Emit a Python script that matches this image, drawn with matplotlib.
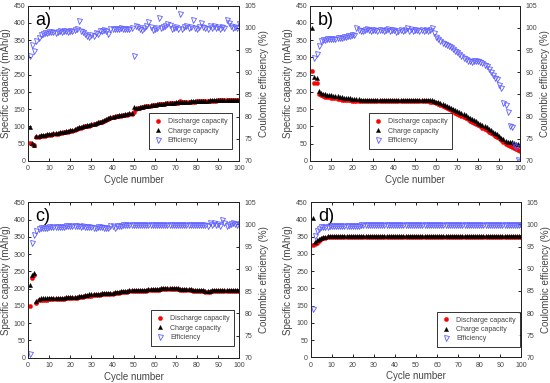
import numpy as np
import matplotlib
matplotlib.use("Agg")
import matplotlib.pyplot as plt

plt.rcParams['font.family'] = ['Liberation Sans', 'DejaVu Sans']

cycles = np.arange(1, 101)

# ---- panel a ----
a_dis = [53, 49, 45, 68, 70, 71, 72, 73, 74, 75,
         76, 77, 78, 79, 80, 81, 83, 84, 85, 87,
         88, 90, 92, 95, 96, 98, 100, 101, 102, 104,
         106, 108, 110, 112, 114, 116, 119, 121, 124, 126,
         127, 129, 130, 131, 132, 133, 134, 136, 137, 143,
         150, 152, 153, 155, 156, 158, 159, 160, 161, 162,
         163, 164, 165, 165, 166, 167, 167, 168, 168, 169,
         169, 174, 170, 170, 171, 171, 172, 172, 172, 173,
         173, 173, 174, 174, 174, 175, 175, 175, 175, 176,
         176, 176, 176, 177, 176, 176, 177, 177, 177, 177]
a_chg = [97, 51, 47, 72, 73, 74, 75, 76, 77, 78,
         79, 80, 81, 82, 83, 84, 85, 86, 88, 89,
         90, 92, 94, 97, 98, 100, 102, 103, 104, 106,
         108, 110, 112, 114, 116, 118, 121, 123, 126, 128,
         129, 131, 132, 133, 134, 135, 136, 138, 139, 155,
         152, 154, 155, 157, 158, 159, 160, 161, 162, 163,
         164, 165, 166, 166, 167, 168, 168, 169, 169, 170,
         170, 171, 171, 171, 172, 172, 173, 173, 173, 174,
         174, 174, 175, 175, 175, 176, 176, 176, 176, 177,
         177, 177, 177, 178, 177, 177, 178, 178, 178, 178]
a_eff = [93.7, 96.1, 94.7, 97.0, 97.8, 98.4, 98.6, 98.8, 98.9, 99.0,
         99.0, 99.1, 98.9, 99.1, 99.2, 99.0, 99.2, 99.3, 99.1, 99.3,
         99.4, 99.5, 99.8, 101.5, 99.4, 99.0, 98.6, 98.2, 98.0, 98.4,
         98.2, 98.8, 98.6, 99.2, 99.4, 99.6, 99.2, 98.7, 99.7, 99.8,
         99.8, 99.7, 99.8, 99.9, 99.8, 99.8, 99.7, 99.8, 100.0, 93.7,
         100.4, 100.1, 99.8, 99.6, 100.0, 100.4, 101.3, 100.2, 99.5, 99.8,
         100.0, 102.3, 99.9, 100.1, 100.5, 100.8, 100.6, 99.8, 100.0, 100.3,
         99.7, 103.2, 99.8, 100.1, 100.4, 99.9, 100.2, 101.7, 99.9, 99.8,
         100.2, 101.0, 100.3, 100.0, 99.8, 100.4, 100.0, 100.5, 99.9, 100.2,
         99.8, 100.3, 100.0, 101.7, 101.1, 100.4, 99.9, 100.3, 100.0, 100.9]

# ---- panel b ----
b_dis = [262, 225, 225, 195, 190, 187, 185, 184, 184, 183,
         182, 181, 180, 179, 178, 177, 177, 176, 176, 175,
         175, 175, 174, 174, 174, 174, 174, 173, 173, 173,
         173, 173, 173, 173, 173, 173, 173, 173, 173, 173,
         173, 173, 173, 174, 174, 174, 174, 174, 174, 174,
         174, 174, 174, 174, 174, 173, 172, 171, 170, 168,
         166, 163, 160, 157, 154, 151, 147, 144, 140, 137,
         134, 131, 127, 124, 120, 117, 113, 110, 107, 103,
         100, 96, 93, 89, 85, 81, 77, 73, 69, 65,
         60, 55, 50, 45, 42, 40, 37, 34, 32, 30]
b_chg = [385, 242, 240, 203, 197, 195, 193, 192, 191, 190,
         189, 188, 187, 185, 184, 183, 182, 181, 181, 180,
         180, 179, 179, 178, 178, 178, 178, 177, 177, 177,
         177, 177, 177, 177, 177, 177, 177, 177, 177, 177,
         177, 177, 177, 178, 178, 178, 178, 178, 178, 178,
         178, 178, 178, 178, 178, 177, 177, 176, 174, 172,
         170, 168, 165, 162, 159, 156, 153, 150, 147, 144,
         141, 138, 135, 132, 128, 125, 122, 118, 115, 111,
         108, 104, 101, 97, 93, 89, 85, 81, 77, 72,
         67, 62, 58, 56, 55, 54, 52, 50, 48, 46]
b_eff = [68.1, 93.1, 94.0, 95.9, 97.1, 97.2, 97.3, 97.4, 97.4, 97.5,
         97.6, 97.6, 97.7, 97.8, 97.8, 97.9, 98.0, 98.1, 98.2, 98.3,
         98.5, 100.0, 99.5, 99.4, 99.2, 99.6, 99.8, 99.5, 99.4, 99.5,
         99.5, 99.4, 99.6, 99.5, 99.3, 99.5, 99.7, 99.2, 99.6, 99.5,
         99.1, 99.4, 99.6, 99.3, 99.5, 100.0, 99.4, 99.8, 99.3, 99.6,
         99.5, 99.4, 99.5, 99.4, 99.5, 99.4, 99.6, 99.9, 98.8, 98.0,
         97.4, 97.0, 96.7, 96.4, 96.2, 96.0, 95.7, 95.3, 94.8, 94.5,
         94.0, 93.6, 93.2, 92.9, 92.6, 92.5, 92.4, 92.5, 92.6, 92.5,
         92.3, 92.0, 91.6, 91.4, 90.8, 90.1, 89.3, 88.8, 88.5, 87.2,
         86.5, 83.0, 82.6, 81.0, 77.8, 77.6, 73.5, 73.2, 70.3, 69.8]

# ---- panel c ----
c_dis = [149, 231, 238, 159, 166, 168, 168, 168, 168, 169,
         169, 169, 170, 170, 170, 171, 171, 172, 172, 172,
         173, 173, 174, 175, 176, 177, 178, 179, 180, 180,
         181, 181, 182, 182, 183, 183, 184, 184, 185, 185,
         186, 187, 188, 189, 189, 190, 191, 192, 192, 193,
         193, 193, 193, 194, 194, 194, 195, 195, 196, 196,
         197, 197, 198, 198, 198, 198, 198, 198, 198, 198,
         198, 197, 197, 196, 196, 195, 195, 194, 194, 193,
         193, 192, 192, 191, 191, 191, 192, 192, 192, 192,
         193, 193, 193, 193, 193, 192, 192, 192, 192, 192]
c_chg = [210, 240, 245, 163, 170, 172, 172, 172, 172, 172,
         172, 172, 173, 173, 173, 174, 174, 175, 175, 175,
         176, 176, 177, 178, 179, 180, 181, 182, 183, 183,
         184, 184, 185, 185, 186, 186, 187, 187, 188, 188,
         189, 190, 191, 192, 192, 193, 194, 195, 195, 196,
         196, 196, 196, 197, 197, 197, 198, 198, 199, 199,
         200, 200, 201, 201, 201, 201, 201, 201, 201, 202,
         201, 200, 200, 199, 199, 198, 198, 197, 197, 196,
         196, 195, 195, 194, 194, 194, 195, 195, 195, 195,
         196, 196, 196, 196, 196, 195, 195, 195, 195, 195]
c_eff = [70.9, 95.9, 97.6, 98.5, 99.0, 99.2, 99.3, 99.3, 99.3, 99.4,
         99.4, 99.4, 99.5, 99.5, 99.5, 99.5, 99.5, 99.6, 99.6, 99.6,
         99.6, 99.7, 99.6, 99.6, 99.5, 99.6, 99.5, 99.5, 99.4, 99.5,
         99.2, 99.3, 99.4, 99.5, 99.4, 99.2, 99.1, 99.2, 99.7, 99.6,
         99.3, 99.6, 99.7, 99.7, 99.8, 99.8, 99.8, 99.8, 99.8, 99.8,
         99.8, 99.8, 99.8, 99.8, 99.8, 99.8, 99.8, 99.8, 99.8, 99.8,
         99.9, 99.8, 99.9, 99.8, 99.8, 99.9, 99.8, 99.8, 99.8, 99.8,
         99.8, 99.8, 99.8, 99.8, 99.9, 99.9, 99.8, 99.8, 99.9, 99.9,
         99.9, 99.9, 99.9, 99.8, 99.7, 100.4, 99.8, 100.3, 99.9, 100.0,
         99.7, 101.0, 100.4, 99.7, 99.8, 100.0, 100.3, 100.2, 99.8, 100.1]

# ---- panel d ----
d_dis = [326, 328, 332, 338, 342, 345, 347, 348, 348, 349,
         349, 349, 349, 349, 350, 350, 350, 350, 350, 350,
         350, 350, 350, 350, 350, 350, 350, 350, 350, 350,
         350, 350, 350, 350, 350, 350, 350, 350, 350, 350,
         350, 350, 350, 350, 350, 350, 350, 350, 350, 350,
         350, 350, 350, 350, 350, 350, 350, 350, 350, 350,
         350, 350, 350, 350, 350, 350, 350, 350, 350, 350,
         350, 350, 350, 350, 350, 350, 350, 350, 350, 350,
         350, 350, 350, 350, 350, 350, 350, 350, 350, 350,
         350, 350, 350, 350, 350, 350, 350, 350, 350, 350]
d_chg = [403, 336, 340, 344, 347, 349, 350, 351, 351, 352,
         352, 352, 352, 352, 352, 352, 352, 352, 352, 352,
         352, 352, 353, 353, 353, 353, 353, 353, 353, 353,
         353, 353, 353, 353, 353, 353, 353, 353, 353, 353,
         353, 353, 353, 353, 353, 353, 353, 353, 353, 353,
         353, 353, 353, 353, 353, 353, 353, 353, 353, 353,
         353, 353, 353, 353, 353, 353, 353, 353, 353, 353,
         353, 353, 353, 353, 353, 353, 353, 353, 353, 353,
         353, 353, 353, 353, 353, 353, 353, 353, 353, 353,
         353, 353, 353, 353, 353, 353, 353, 353, 353, 353]
d_eff = [80.8, 97.3, 98.4, 99.0, 99.3, 99.4, 99.5, 99.5, 99.6, 99.6,
         99.7, 99.7, 99.7, 99.7, 99.7, 99.7, 99.7, 99.7, 99.7, 99.7,
         99.7, 99.7, 99.7, 99.8, 99.8, 99.8, 99.8, 99.8, 99.8, 99.8,
         99.8, 99.8, 99.8, 99.8, 99.8, 99.8, 99.8, 99.8, 99.8, 99.8,
         99.8, 99.8, 99.8, 99.8, 99.8, 99.8, 99.8, 99.8, 99.8, 99.8,
         99.8, 99.8, 99.8, 99.8, 99.8, 99.8, 99.8, 99.8, 99.8, 99.8,
         99.8, 99.8, 99.8, 99.8, 99.8, 99.8, 99.8, 99.8, 99.8, 99.8,
         99.8, 99.8, 99.8, 99.8, 99.8, 99.8, 99.8, 99.8, 99.8, 99.8,
         99.8, 99.8, 99.8, 99.8, 99.8, 99.8, 99.8, 99.8, 99.8, 99.8,
         99.8, 99.8, 99.8, 99.8, 99.8, 99.8, 99.8, 99.8, 99.8, 99.8]

panels = [
    ("a)", a_dis, a_chg, a_eff, [0.051, 0.580, 0.384, 0.405], (0.573, 0.077)),
    ("b)", b_dis, b_chg, b_eff, [0.564, 0.580, 0.382, 0.405], (0.280, 0.077)),
    ("c)", c_dis, c_chg, c_eff, [0.051, 0.066, 0.384, 0.406], (0.583, 0.075)),
    ("d)", d_dis, d_chg, d_eff, [0.565, 0.067, 0.383, 0.405], (0.600, 0.065)),
]

TXT = '#444444'
BLUE = '#5a5aff'

fig = plt.figure(figsize=(5.5, 3.83), dpi=100)

for label, dis, chg, eff, rect, leg_xy in panels:
    ax = fig.add_axes(rect)
    ax2 = ax.twinx()
    h1, = ax.plot(cycles, dis, 'o', color='red', ms=3, mec='red', mew=0.3,
                  label='Discharge capacity')
    h2, = ax.plot(cycles, chg, '^', color='black', ms=3, mew=0.3,
                  label='Charge capacity')
    h3, = ax2.plot(cycles, eff, 'v', mfc='none', mec=BLUE, ms=3.6, mew=0.6,
                   label='Efficiency')

    ax.set_xlim(0, 100)
    ax.set_ylim(0, 450)
    ax2.set_ylim(70, 105)
    ax.set_xticks(np.arange(0, 101, 10))
    ax.set_yticks(np.arange(0, 451, 50))
    ax2.set_yticks(np.arange(70, 106, 5))

    ax.tick_params(axis='both', direction='in', length=2.5, width=0.6,
                   labelsize=5, labelcolor=TXT, top=True, pad=2)
    ax.tick_params(axis='x', pad=3)
    ax2.tick_params(axis='y', direction='in', length=2.5, width=0.6,
                    labelsize=5, labelcolor=TXT, pad=4)
    for a in (ax, ax2):
        for s in a.spines.values():
            s.set_linewidth(0.7)
            s.set_color('#222222')

    ax.set_xlabel('Cycle number', fontsize=7, color=TXT, labelpad=2)
    ax.set_ylabel('Specific capacity (mAh/g)', fontsize=7, color=TXT, labelpad=2)
    ax2.set_ylabel('Coulombic efficiency (%)', fontsize=7, color=TXT, labelpad=2)

    ax.text(0.035, 0.96, label, transform=ax.transAxes, fontsize=13,
            ha='left', va='top', color='black')

    leg = ax2.legend([h1, h2, h3],
                     ['Discharge capacity', 'Charge capacity', 'Efficiency'],
                     loc='lower left', bbox_to_anchor=leg_xy, fontsize=5,
                     frameon=True, fancybox=False, borderpad=0.7,
                     labelspacing=0.35, handletextpad=0.8, handlelength=1.2,
                     borderaxespad=0)
    leg.get_frame().set_edgecolor('black')
    leg.get_frame().set_linewidth(0.7)
    for t in leg.get_texts():
        t.set_color(TXT)

fig.savefig('out.png', dpi=100)
